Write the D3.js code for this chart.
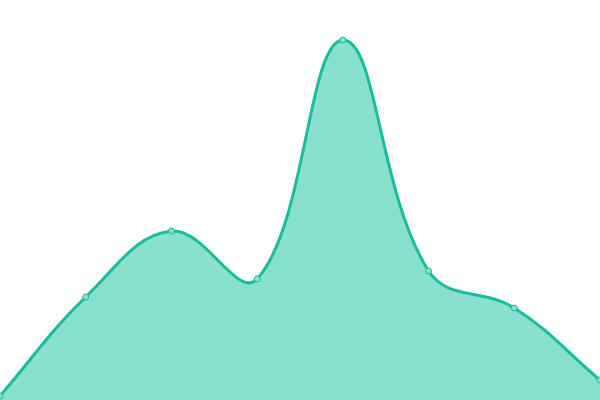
<!DOCTYPE html>
<html><head><meta charset="utf-8">
<script src="https://cdn.jsdelivr.net/npm/d3@7"></script>
<style>html,body{margin:0;padding:0;background:#fff;}svg{display:block;}</style>
</head><body>
<svg id="c" width="600" height="400"></svg>
<script>
const categories = [0, 1, 2, 3, 4, 5, 6, 7];
const values = [4, 103, 169, 121, 360, 129, 92, 20];
const yDomain = [0, 400];

const W = 600, H = 400, TENSION = 0.4;
const svg = d3.select("#c");
const x = d3.scalePoint().domain(categories).range([0, W]);
const y = d3.scaleLinear().domain(yDomain).range([H, 0]);
const pts = categories.map((c, i) => ({x: x(c), y: y(values[i])}));

// spline control points (tension-weighted by segment distances)
function controls(p) {
  return p.map((cur, i) => {
    const prev = p[i - 1] || cur, next = p[i + 1] || cur;
    const d01 = Math.hypot(cur.x - prev.x, cur.y - prev.y);
    const d12 = Math.hypot(next.x - cur.x, next.y - cur.y);
    let s01 = d01 / (d01 + d12), s12 = d12 / (d01 + d12);
    if (!isFinite(s01)) s01 = 0; if (!isFinite(s12)) s12 = 0;
    const fa = TENSION * s01, fb = TENSION * s12;
    const clampX = v => Math.max(0, Math.min(W, v));
    const clampY = v => Math.max(0, Math.min(H, v));
    return {
      px: clampX(cur.x - fa * (next.x - prev.x)), py: clampY(cur.y - fa * (next.y - prev.y)),
      nx: clampX(cur.x + fb * (next.x - prev.x)), ny: clampY(cur.y + fb * (next.y - prev.y))
    };
  });
}
const cp = controls(pts);
function buildPath(ctx) {
  ctx.moveTo(pts[0].x, pts[0].y);
  for (let i = 1; i < pts.length; i++) {
    ctx.bezierCurveTo(cp[i - 1].nx, cp[i - 1].ny, cp[i].px, cp[i].py, pts[i].x, pts[i].y);
  }
  return ctx;
}
const lp = buildPath(d3.path());
const ap = buildPath(d3.path());
ap.lineTo(pts[pts.length - 1].x, H); ap.lineTo(pts[0].x, H); ap.closePath();

svg.append("path").attr("d", ap.toString()).attr("fill", "#88e0cf");
svg.append("path").attr("d", lp.toString()).attr("fill", "none")
  .attr("stroke", "#1abc9c").attr("stroke-width", 3);
svg.selectAll("circle").data(pts).join("circle")
  .attr("cx", d => d.x).attr("cy", d => d.y).attr("r", 3)
  .attr("fill", "#88e0cf").attr("stroke", "#1abc9c").attr("stroke-width", 1);
</script>
</body></html>
